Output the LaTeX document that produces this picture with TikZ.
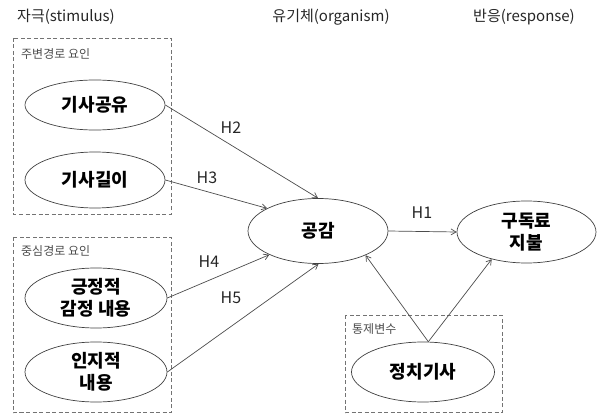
\documentclass[tikz,border=0pt]{standalone}
\usepackage{fontspec}
\setmainfont{Noto Sans CJK KR}
\usetikzlibrary{shapes.geometric,arrows.meta}
\begin{document}
\begin{tikzpicture}[x=1pt,y=-1pt,
  ell/.style={draw=black!75, line width=0.7pt, ellipse, inner sep=0pt, align=center,
    font=\fontsize{18}{22}\selectfont\bfseries},
  title/.style={font=\fontsize{15}{17}\selectfont, text=black!85},
  grp/.style={draw=black!55, dashed, dash pattern=on 4pt off 2.5pt, line width=0.8pt},
  grplabel/.style={font=\fontsize{12}{14}\selectfont, text=black!70, anchor=west, inner sep=0pt},
  hlab/.style={font=\fontsize{16}{18}\selectfont, text=black!85},
  arr/.style={draw=black!70, line width=0.7pt, -{Straight Barb[length=5pt,width=6pt]}}]
\useasboundingbox (0,0) rectangle (597,414);
% titles
\node[title] (t1) at (66,17) {자극(stimulus)};
\node[title] (t2) at (331,17) {유기체(organism)};
\node[title] (t3) at (524,17) {반응(response)};
% group boxes
\draw[grp] (13,38) rectangle (171,214);
\node[grplabel] (g1) at (21,54) {주변경로 요인};
\draw[grp] (13,237) rectangle (171,412.5);
\node[grplabel] (g2) at (21,251) {중심경로 요인};
\draw[grp] (345,315) rectangle (502,412.5);
\node[grplabel] (g3) at (352,329) {통제변수};
% ellipses
\node[ell, minimum width=140pt, minimum height=50pt] (gy) at (95,105) {기사공유};
\node[ell, minimum width=140pt, minimum height=56pt] (gl) at (95,180) {기사길이};
\node[ell, minimum width=142pt, minimum height=60pt] (pe) at (96,298) {긍정적\\감정 내용};
\node[ell, minimum width=142pt, minimum height=60pt] (cg) at (96,372) {인지적\\내용};
\node[ell, minimum width=140pt, minimum height=65pt] (gk) at (318,231) {공감};
\node[ell, minimum width=139pt, minimum height=62pt] (pay) at (526.5,232) {구독료\\지불};
\node[ell, minimum width=143pt, minimum height=60pt] (pol) at (423,372) {정치기사};
% arrows
\draw[arr] (gy.east) -- (gk.north);
\node[hlab] (h2l) at (231,128) {H2};
\draw[arr] (gl.east) -- (gk.156);
\node[hlab] (h3l) at (207,178) {H3};
\draw[arr] (pe.east) -- (gk.206);
\node[hlab] (h4l) at (209,262) {H4};
\draw[arr] (cg.east) -- (gk.271);
\node[hlab] (h5l) at (231,298) {H5};
\draw[arr] (gk.east) -- (pay.west);
\node[hlab] (h1l) at (422,213) {H1};
\draw[arr] (pol.80) -- (gk.333);
\draw[arr] (pol.80) -- (pay.218);
\end{tikzpicture}
\end{document}
